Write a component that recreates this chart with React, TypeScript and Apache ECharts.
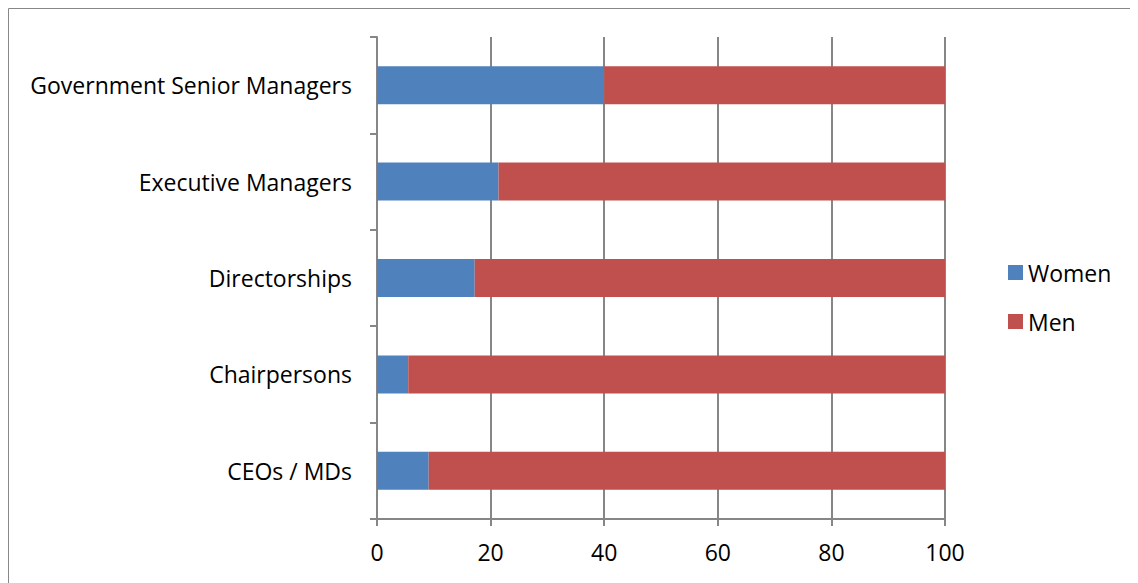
import React, { useEffect, useRef } from "react";
import * as echarts from "echarts";

const categories = ["CEOs / MDs", "Chairpersons", "Directorships", "Executive Managers", "Government Senior Managers"];
const women = [9.1, 5.5, 17.2, 21.4, 40];
const men = [90.9, 94.5, 82.8, 78.6, 60];
const xTicks = [0, 20, 40, 60, 80, 100];

export default function App() {
  const ref = useRef<HTMLDivElement>(null);
  useEffect(() => {
    if (!ref.current) return;
    const chart = echarts.init(ref.current, null, { renderer: "svg" });
    const font = "Open Sans";
    chart.setOption({
      animation: false,
      textStyle: { fontFamily: font },
      graphic: [
        {
          type: "rect",
          shape: { x: 0.5, y: 0.5, width: 1129, height: 600 },
          style: { fill: "none", stroke: "#878787", lineWidth: 1 },
          silent: true,
        },
      ],
      legend: {
        orient: "vertical",
        left: 1000,
        top: 253,
        padding: 0,
        itemWidth: 15,
        itemHeight: 15,
        itemGap: 26,
        itemTextGap: 6,
        icon: "rect",
        textStyle: { fontSize: 23, color: "#000", fontFamily: font },
        data: ["Women", "Men"],
      },
      grid: { left: 369, top: 29, width: 568, height: 482, containLabel: false },
      xAxis: {
        type: "value",
        min: xTicks[0],
        max: xTicks[xTicks.length - 1],
        interval: 20,
        axisLine: { show: true, lineStyle: { color: "#868686", width: 2 } },
        axisTick: { show: true, length: 7, lineStyle: { color: "#868686", width: 2 } },
        splitLine: { show: true, lineStyle: { color: "#868686", width: 2 } },
        axisLabel: { fontSize: 23, color: "#000", margin: 21, fontFamily: font },
      },
      yAxis: {
        type: "category",
        data: categories,
        axisLine: { show: true, lineStyle: { color: "#868686", width: 2 } },
        axisTick: { show: true, length: 7, lineStyle: { color: "#868686", width: 2 } },
        axisLabel: { fontSize: 23, color: "#000", margin: 25, fontFamily: font },
        splitLine: { show: false },
      },
      series: [
        {
          name: "Women",
          type: "bar",
          stack: "total",
          data: women,
          barWidth: 38,
          itemStyle: { color: "#4F81BD" },
        },
        {
          name: "Men",
          type: "bar",
          stack: "total",
          data: men,
          barWidth: 38,
          itemStyle: { color: "#C0504D" },
        },
      ],
    });
    return () => chart.dispose();
  }, []);
  return <div ref={ref} style={{ width: 1130, height: 575 }} />;
}
